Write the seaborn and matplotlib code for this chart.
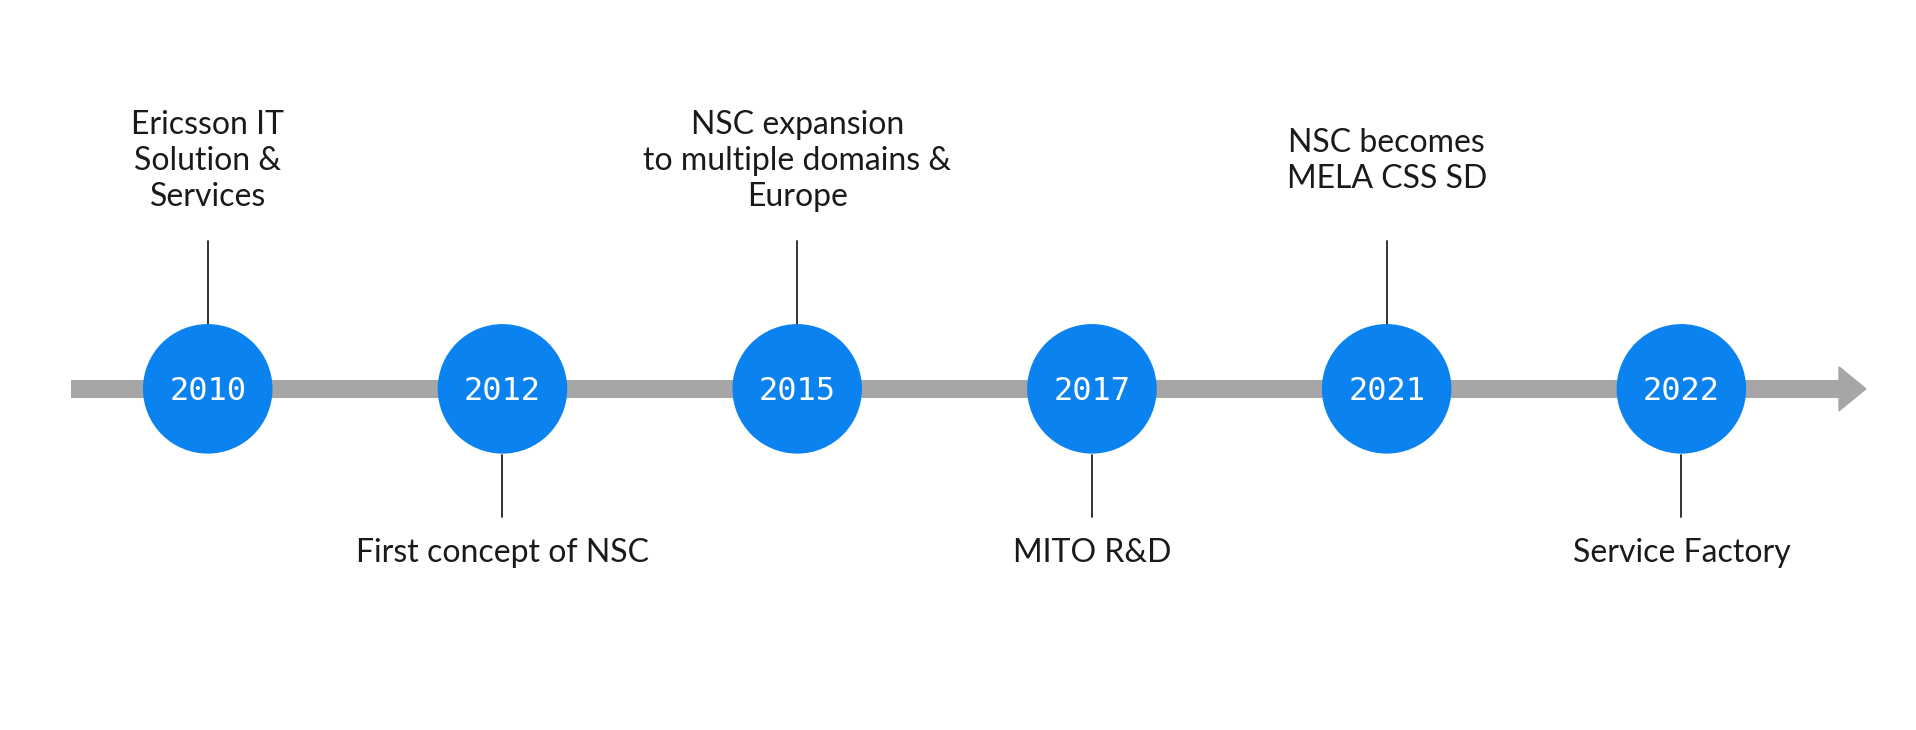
import matplotlib.pyplot as plt
import seaborn as sns
import pandas as pd

years = ["2010", "2012", "2015", "2017", "2021", "2022"]
labels = [
    "Ericsson IT\nSolution &\nServices",
    "First concept of NSC",
    "NSC expansion\nto multiple domains &\nEurope",
    "MITO R&D",
    "NSC becomes\nMELA CSS SD",
    "Service Factory",
]
above = [True, False, True, False, True, False]

# layout in reference pixel space (1568 x 597)
x0, step = 170, 241.2
df = pd.DataFrame({"year": years, "label": labels, "above": above})
df["x"] = x0 + df.index * step
df["y"] = 318

sns.set_theme(style="white")
plt.rcParams['font.family'] = ['Lato', 'DejaVu Sans']

fig = plt.figure(figsize=(19.16, 7.3), dpi=100)
ax = fig.add_axes([0, 0, 1, 1])
ax.set_xlim(0, 1568)
ax.set_ylim(597, 0)
ax.axis("off")

# gray arrow
ax.plot([58, 1505], [318, 318], color="#a6a6a6", lw=13, solid_capstyle="butt", zorder=1)
ax.fill([1505, 1527, 1505], [300, 318, 336], color="#a6a6a6", zorder=1)

# connectors
for _, r in df.iterrows():
    if r["above"]:
        ax.plot([r["x"], r["x"]], [197, 265], color="#222222", lw=1.3, zorder=1)
        ax.text(r["x"], 132, r["label"], ha="center", va="center", fontsize=23,
                color="#1a1a1a", linespacing=1.25)
    else:
        ax.plot([r["x"], r["x"]], [372, 423], color="#222222", lw=1.3, zorder=1)
        ax.text(r["x"], 452, r["label"], ha="center", va="center", fontsize=23,
                color="#1a1a1a")

sns.scatterplot(data=df, x="x", y="y", s=8700, color="#0a82f0", edgecolor="none",
                ax=ax, zorder=3, legend=False)
for _, r in df.iterrows():
    ax.text(r["x"], r["y"] + 2, r["year"], ha="center", va="center", fontsize=23,
            color="white", family="DejaVu Sans Mono", zorder=4)

ax.set_xlim(0, 1568)
ax.set_ylim(597, 0)
ax.axis("off")
fig.savefig("out.png", dpi=100)
